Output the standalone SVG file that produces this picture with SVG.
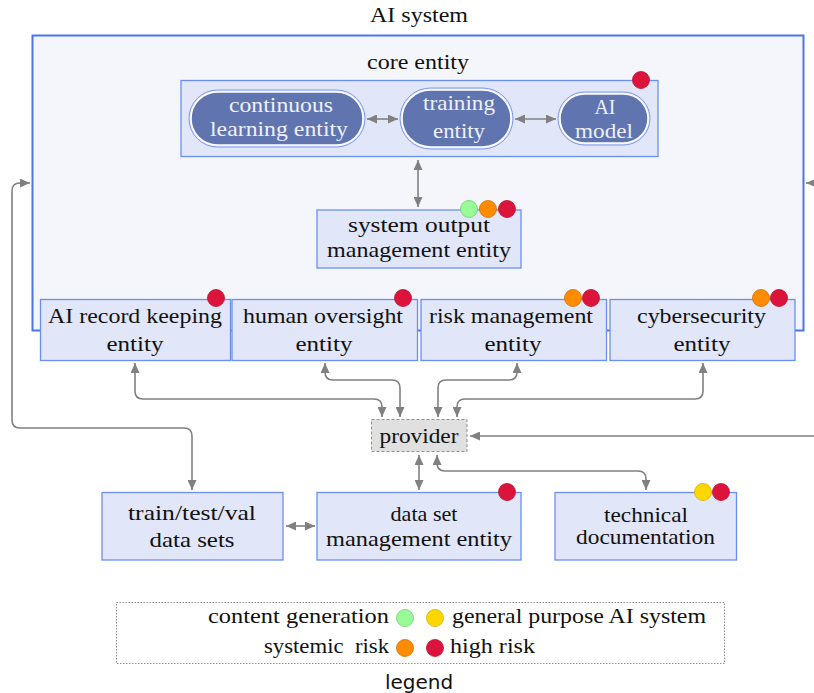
<svg xmlns="http://www.w3.org/2000/svg" width="814" height="693" viewBox="0 0 814 693">
<style>
.t{font-family:"Liberation Serif","Times New Roman",serif;font-size:21px;fill:#111;text-anchor:middle}
.pt{font-family:"Liberation Serif","Times New Roman",serif;font-size:21px;fill:#eef0fa;text-anchor:middle}
.box{fill:#e1e6f8;stroke:#6b8ff0;stroke-width:1.3}
.pillo{fill:none;stroke:#7d97ef;stroke-width:1}
.pilli{fill:#6074b0;stroke:#ffffff;stroke-width:1.5}
.c{fill:none;stroke:#808080;stroke-width:1.6;marker-start:url(#a);marker-end:url(#a)}
.c1{fill:none;stroke:#808080;stroke-width:1.6;marker-end:url(#a)}
.red{fill:#dc143c;stroke:#b8102f;stroke-width:0.8}
.org{fill:#ff8c00;stroke:#d07000;stroke-width:0.8}
.grn{fill:#98fb98;stroke:#6fcf6f;stroke-width:0.8}
.yel{fill:#ffd700;stroke:#d4b000;stroke-width:0.8}
.lt{font-family:"Liberation Serif","Times New Roman",serif;font-size:21px;fill:#111;white-space:pre}
</style>
<defs>
<marker id="a" markerUnits="userSpaceOnUse" markerWidth="10" markerHeight="9" refX="10" refY="4.5" orient="auto-start-reverse">
<path d="M0,0 L10,4.5 L0,9 z" fill="#808080"/>
</marker>
</defs>
<rect width="814" height="693" fill="#ffffff"/>

<g id="ai-system">
<rect x="32.5" y="35.5" width="771" height="295" fill="#f5f6fc" stroke="#4d75e8" stroke-width="2"/>
<text class="t" x="419" y="22" textLength="98" lengthAdjust="spacingAndGlyphs">AI system</text>
</g>

<g id="core-entity">
<text class="t" x="418" y="69" textLength="102" lengthAdjust="spacingAndGlyphs">core entity</text>
<rect class="box" x="181" y="80.5" width="477" height="76"/>
<circle class="red" cx="641" cy="80" r="8.5"/>
</g>

<g id="continuous-learning">
<rect class="pillo" x="189" y="90" width="176" height="57" rx="28.5"/>
<rect class="pilli" x="191" y="92" width="172" height="53" rx="26.5"/>
<text class="pt" x="281" y="112" textLength="104" lengthAdjust="spacingAndGlyphs">continuous</text>
<text class="pt" x="279" y="136" textLength="138" lengthAdjust="spacingAndGlyphs">learning entity</text>
</g>

<g id="training">
<rect class="pillo" x="400" y="88" width="113" height="61" rx="30.5"/>
<rect class="pilli" x="402" y="90" width="109" height="57" rx="28.5"/>
<text class="pt" x="459" y="110" textLength="72" lengthAdjust="spacingAndGlyphs">training</text>
<text class="pt" x="459" y="138" textLength="52" lengthAdjust="spacingAndGlyphs">entity</text>
</g>

<g id="ai-model">
<rect class="pillo" x="558" y="92" width="92" height="53" rx="26.5"/>
<rect class="pilli" x="560" y="94" width="88" height="49" rx="24.5"/>
<text class="pt" x="605" y="114" textLength="21" lengthAdjust="spacingAndGlyphs">AI</text>
<text class="pt" x="604" y="138" textLength="58" lengthAdjust="spacingAndGlyphs">model</text>
</g>

<g id="system-output">
<rect class="box" x="317" y="210" width="204" height="58"/>
<text class="t" x="419" y="232" textLength="142" lengthAdjust="spacingAndGlyphs">system output</text>
<text class="t" x="419" y="257" textLength="184" lengthAdjust="spacingAndGlyphs">management entity</text>
<circle class="grn" cx="469" cy="209" r="8.5"/>
<circle class="org" cx="488" cy="209" r="8.5"/>
<circle class="red" cx="507" cy="209" r="8.5"/>
</g>

<g id="record-keeping">
<rect class="box" x="40.5" y="299.5" width="190" height="61"/>
<text class="t" x="135" y="323" textLength="174" lengthAdjust="spacingAndGlyphs">AI record keeping</text>
<text class="t" x="135" y="351" textLength="57" lengthAdjust="spacingAndGlyphs">entity</text>
<circle class="red" cx="216" cy="298" r="8.5"/>
</g>

<g id="human-oversight">
<rect class="box" x="232" y="299.5" width="185.5" height="61"/>
<text class="t" x="323" y="323" textLength="160" lengthAdjust="spacingAndGlyphs">human oversight</text>
<text class="t" x="324" y="351" textLength="57" lengthAdjust="spacingAndGlyphs">entity</text>
<circle class="red" cx="403" cy="298" r="8.5"/>
</g>

<g id="risk-management">
<rect class="box" x="421" y="299.5" width="185.5" height="61"/>
<text class="t" x="511" y="323" textLength="164" lengthAdjust="spacingAndGlyphs">risk management</text>
<text class="t" x="513" y="351" textLength="57" lengthAdjust="spacingAndGlyphs">entity</text>
<circle class="org" cx="573" cy="298" r="8.5"/>
<circle class="red" cx="591" cy="298" r="8.5"/>
</g>

<g id="cybersecurity">
<rect class="box" x="610" y="299.5" width="185" height="61"/>
<text class="t" x="701.5" y="323" textLength="129" lengthAdjust="spacingAndGlyphs">cybersecurity</text>
<text class="t" x="702" y="351" textLength="57" lengthAdjust="spacingAndGlyphs">entity</text>
<circle class="org" cx="761" cy="298" r="8.5"/>
<circle class="red" cx="779" cy="298" r="8.5"/>
</g>

<g id="provider">
<rect x="371.5" y="419.5" width="95.5" height="32" fill="#e0e0e0" stroke="#909090" stroke-width="1" stroke-dasharray="3,2"/>
<text class="t" x="419" y="443" textLength="79" lengthAdjust="spacingAndGlyphs">provider</text>
</g>

<g id="train-test-val">
<rect class="box" x="102" y="492.5" width="181" height="67.5"/>
<text class="t" x="192" y="520" textLength="128" lengthAdjust="spacingAndGlyphs">train/test/val</text>
<text class="t" x="192" y="547" textLength="85" lengthAdjust="spacingAndGlyphs">data sets</text>
</g>

<g id="data-set-management">
<rect class="box" x="317" y="492.5" width="204" height="67.5"/>
<text class="t" x="424" y="521" textLength="67" lengthAdjust="spacingAndGlyphs">data set</text>
<text class="t" x="419" y="546" textLength="186" lengthAdjust="spacingAndGlyphs">management entity</text>
<circle class="red" cx="507" cy="492" r="8.5"/>
</g>

<g id="technical-documentation">
<rect class="box" x="555" y="492.5" width="181.5" height="67.5"/>
<text class="t" x="646" y="522" textLength="84" lengthAdjust="spacingAndGlyphs">technical</text>
<text class="t" x="645.5" y="544" textLength="139" lengthAdjust="spacingAndGlyphs">documentation</text>
<circle class="yel" cx="703" cy="492" r="8.5"/>
<circle class="red" cx="721" cy="492" r="8.5"/>
</g>

<g id="connectors">
<path class="c" d="M367,119 H398"/>
<path class="c" d="M515,119 H556"/>
<path class="c" d="M418,160 V207"/>
<path class="c" d="M135,363 V391 Q135,399 143,399 H374 Q382,399 382,407 V417"/>
<path class="c" d="M325,363 V372 Q325,380 333,380 H392 Q400,380 400,388 V417"/>
<path class="c" d="M517,363 V372 Q517,380 509,380 H446 Q438,380 438,388 V417"/>
<path class="c" d="M703,363 V391 Q703,399 695,399 H465 Q457,399 457,407 V417"/>
<path class="c1" d="M816,436 H470"/>
<path class="c1" d="M818,183 H806"/>
<path class="c" d="M192,490 V436 Q192,428 184,428 H20 Q12,428 12,420 V191 Q12,183 20,183 H30"/>
<path class="c" d="M419,455 V490"/>
<path class="c" d="M437,455 V463 Q437,471 445,471 H638 Q646,471 646,479 V490"/>
<path class="c" d="M286,526 H315"/>
</g>

<g id="legend">
<rect x="116.5" y="602.5" width="608" height="61" fill="none" stroke="#909090" stroke-width="1" stroke-dasharray="1.5,1.5"/>
<text class="lt" x="389" y="623" text-anchor="end" textLength="181" lengthAdjust="spacingAndGlyphs">content generation</text>
<circle class="grn" cx="405" cy="618" r="8.5"/>
<circle class="yel" cx="435" cy="618" r="8.5"/>
<text class="lt" x="452" y="623" textLength="254" lengthAdjust="spacingAndGlyphs">general purpose AI system</text>
<text class="lt" x="389" y="653" text-anchor="end" textLength="125" lengthAdjust="spacingAndGlyphs">systemic  risk</text>
<circle class="org" cx="405" cy="648" r="8.5"/>
<circle class="red" cx="435" cy="648" r="8.5"/>
<text class="lt" x="450" y="653" textLength="85" lengthAdjust="spacingAndGlyphs">high risk</text>
<text x="419" y="689" text-anchor="middle" font-family="'DejaVu Sans',sans-serif" font-size="20" fill="#111">legend</text>
</g>
</svg>
